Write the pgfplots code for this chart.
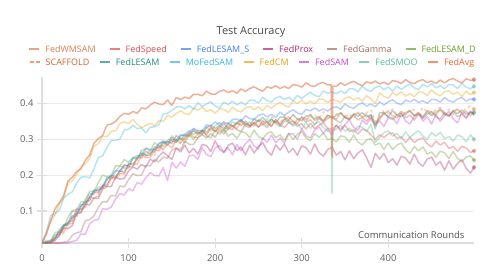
\documentclass[border=0pt]{standalone}
\usepackage{fontspec}
\setmainfont{Open Sans}
\usepackage{pgfplots}
\pgfplotsset{compat=1.18}
\definecolor{cWM}{HTML}{E07D55}
\definecolor{cSPD}{HTML}{E04848}
\definecolor{cLS}{HTML}{3F7BE6}
\definecolor{cPRX}{HTML}{A8286A}
\definecolor{cGAM}{HTML}{A06A58}
\definecolor{cLD}{HTML}{6A9E2C}
\definecolor{cSCF}{HTML}{D0642E}
\definecolor{cSCFl}{HTML}{F0A070}
\definecolor{cLE}{HTML}{1E8C78}
\definecolor{cMO}{HTML}{36B4E0}
\definecolor{cCM}{HTML}{EAA010}
\definecolor{cSAM}{HTML}{C845D0}
\definecolor{cSMO}{HTML}{55B896}
\definecolor{cAVG}{HTML}{E8642E}
\newcommand{\li}[2]{\textcolor{#1!70!white}{\rule[2.6bp]{10bp}{1.6bp}}\hspace{6bp}\textcolor{#1}{#2}}
\newcommand{\lid}[2]{\textcolor{cSCFl}{\rule[2.6bp]{4bp}{1.6bp}\hspace{2bp}\rule[2.6bp]{4bp}{1.6bp}}\hspace{6bp}\textcolor{#1}{#2}}
\begin{document}
\begin{tikzpicture}
\path[use as bounding box] (-42bp,-32bp) rectangle (460bp,243bp);
\begin{axis}[
  scale only axis, width=432bp, height=166bp,
  xmin=0, xmax=499, ymin=0.0106, ymax=0.4743,
  axis x line*=bottom, axis y line*=left,
  axis line style={draw=black!13, line width=1.5bp},
  xtick={0,100,200,300,400}, ytick={0.1,0.2,0.3,0.4},
  ymajorgrids, grid style={draw=black!7, line width=0.8bp},
  tick align=center, major tick length=10bp,
  tick style={draw=black!13, line width=1.2bp},
  /pgf/number format/assume math mode=true,
  ticklabel style={font=\fontsize{9.5}{11}\selectfont, text=black!62},
  yticklabel style={/pgf/number format/fixed, /pgf/number format/precision=1},
  xticklabel style={yshift=-3bp},
  xlabel={Communication Rounds},
  xlabel style={at={(axis description cs:0.986,0.027)}, anchor=base east, font=\fontsize{9.5}{11}\selectfont, text=black!68},
  every axis plot/.append style={line width=1.5bp, line join=round, opacity=0.36},
]
% FedSAM
\addplot[draw=cSAM] coordinates {(0,.010)(5,.010)(10,.010)(15,.011)(20,.010)(25,.010)(30,.011)(35,.015)(40,.018)(45,.036)(50,.035)(55,.064)(60,.074)(65,.076)(70,.106)(75,.105)(80,.111)(85,.134)(90,.148)(95,.145)(100,.162)(105,.156)(110,.180)(115,.175)(120,.193)(125,.207)(130,.199)(135,.198)(140,.221)(145,.185)(150,.236)(155,.220)(160,.237)(165,.225)(170,.254)(175,.256)(180,.244)(185,.276)(190,.258)(195,.252)(200,.276)(205,.283)(210,.265)(215,.277)(220,.257)(225,.286)(230,.268)(235,.288)(240,.300)(245,.282)(250,.273)(255,.304)(260,.292)(265,.312)(270,.291)(275,.304)(280,.289)(285,.316)(290,.315)(295,.300)(300,.330)(305,.310)(310,.304)(315,.326)(320,.335)(325,.317)(330,.330)(335,.312)(340,.340)(345,.323)(350,.342)(355,.354)(360,.334)(365,.325)(370,.354)(375,.342)(380,.361)(385,.339)(390,.352)(395,.336)(400,.362)(405,.360)(410,.344)(415,.372)(420,.351)(425,.343)(430,.364)(435,.371)(440,.351)(445,.363)(450,.343)(455,.369)(460,.350)(465,.367)(470,.378)(475,.357)(480,.346)(485,.375)(490,.361)(495,.379)(499,.366)};
% FedProx
\addplot[draw=cPRX] coordinates {(0,.010)(5,.010)(10,.014)(15,.017)(20,.033)(25,.052)(30,.051)(35,.059)(40,.092)(45,.096)(50,.119)(55,.117)(60,.136)(65,.135)(70,.161)(75,.169)(80,.168)(85,.195)(90,.189)(95,.191)(100,.212)(105,.223)(110,.217)(115,.230)(120,.223)(125,.245)(130,.237)(135,.253)(140,.265)(145,.254)(150,.244)(155,.276)(160,.265)(165,.284)(170,.262)(175,.275)(180,.259)(185,.286)(190,.283)(195,.266)(200,.296)(205,.273)(210,.263)(215,.283)(220,.290)(225,.269)(230,.279)(235,.257)(240,.284)(245,.262)(250,.280)(255,.291)(260,.268)(265,.256)(270,.285)(275,.270)(280,.287)(285,.263)(290,.275)(295,.256)(300,.282)(305,.277)(310,.259)(315,.287)(320,.263)(325,.253)(330,.272)(335,.278)(340,.256)(345,.266)(350,.243)(355,.268)(360,.246)(365,.262)(370,.271)(375,.248)(380,.222)(385,.261)(390,.245)(395,.261)(400,.235)(405,.246)(410,.228)(415,.253)(420,.248)(425,.231)(430,.259)(435,.235)(440,.225)(445,.245)(450,.251)(455,.228)(460,.238)(465,.214)(470,.240)(475,.217)(480,.233)(485,.243)(490,.219)(495,.206)(499,.222)};
% FedGamma
\addplot[draw=cGAM] coordinates {(0,.010)(5,.010)(10,.011)(15,.010)(20,.011)(25,.013)(30,.015)(35,.032)(40,.039)(45,.042)(50,.073)(55,.076)(60,.086)(65,.110)(70,.126)(75,.125)(80,.144)(85,.142)(90,.170)(95,.167)(100,.188)(105,.204)(110,.199)(115,.200)(120,.227)(125,.226)(130,.244)(135,.237)(140,.251)(145,.247)(150,.270)(155,.275)(160,.271)(165,.295)(170,.286)(175,.286)(180,.304)(185,.313)(190,.304)(195,.316)(200,.306)(205,.326)(210,.315)(215,.329)(220,.338)(225,.327)(230,.322)(235,.343)(240,.336)(245,.348)(250,.334)(255,.343)(260,.333)(265,.350)(270,.349)(275,.339)(280,.358)(285,.346)(290,.341)(295,.355)(300,.360)(305,.348)(310,.355)(315,.342)(320,.359)(325,.347)(330,.359)(335,.362)(340,.353)(345,.346)(350,.365)(355,.357)(360,.368)(365,.354)(370,.361)(375,.351)(380,.368)(385,.345)(390,.356)(395,.374)(400,.361)(405,.355)(410,.369)(415,.373)(420,.360)(425,.368)(430,.354)(435,.371)(440,.358)(445,.370)(450,.377)(455,.363)(460,.357)(465,.375)(470,.366)(475,.378)(480,.363)(485,.370)(490,.359)(495,.376)(499,.370)};
% FedLESAM_D
\addplot[draw=cLD] coordinates {(0,.010)(5,.017)(10,.016)(15,.040)(20,.042)(25,.053)(30,.082)(35,.101)(40,.103)(45,.125)(50,.126)(55,.155)(60,.154)(65,.179)(70,.200)(75,.196)(80,.199)(85,.226)(90,.226)(95,.244)(100,.236)(105,.250)(110,.246)(115,.269)(120,.274)(125,.268)(130,.291)(135,.282)(140,.281)(145,.297)(150,.306)(155,.293)(160,.304)(165,.291)(170,.313)(175,.300)(180,.316)(185,.326)(190,.310)(195,.304)(200,.326)(205,.315)(210,.328)(215,.309)(220,.317)(225,.303)(230,.321)(235,.319)(240,.305)(245,.326)(250,.308)(255,.301)(260,.317)(265,.321)(270,.305)(275,.313)(280,.297)(285,.317)(290,.300)(295,.314)(300,.322)(305,.304)(310,.296)(315,.316)(320,.306)(325,.318)(330,.299)(335,.303)(340,.293)(345,.310)(350,.307)(355,.292)(360,.312)(365,.293)(370,.284)(375,.299)(380,.302)(385,.284)(390,.290)(395,.272)(400,.290)(405,.272)(410,.284)(415,.290)(420,.271)(425,.261)(430,.280)(435,.268)(440,.279)(445,.259)(450,.265)(455,.250)(460,.267)(465,.263)(470,.247)(475,.266)(480,.247)(485,.238)(490,.251)(495,.254)(499,.242)};
% FedSpeed
\addplot[draw=cSPD] coordinates {(0,.010)(5,.012)(10,.011)(15,.025)(20,.030)(25,.056)(30,.069)(35,.073)(40,.106)(45,.104)(50,.111)(55,.137)(60,.153)(65,.152)(70,.172)(75,.168)(80,.195)(85,.192)(90,.213)(95,.229)(100,.224)(105,.224)(110,.250)(115,.248)(120,.267)(125,.259)(130,.272)(135,.268)(140,.291)(145,.294)(150,.288)(155,.311)(160,.302)(165,.300)(170,.316)(175,.324)(180,.315)(185,.324)(190,.313)(195,.332)(200,.322)(205,.335)(210,.344)(215,.332)(220,.327)(225,.347)(230,.339)(235,.351)(240,.337)(245,.345)(250,.335)(255,.351)(260,.348)(265,.337)(270,.355)(275,.340)(280,.334)(285,.347)(290,.351)(295,.337)(300,.344)(305,.329)(310,.345)(315,.330)(320,.340)(325,.346)(330,.331)(335,.328)(340,.339)(345,.329)(350,.339)(355,.322)(360,.327)(365,.315)(370,.329)(375,.325)(380,.312)(385,.300)(390,.313)(395,.305)(400,.316)(405,.318)(410,.303)(415,.307)(420,.291)(425,.306)(430,.291)(435,.300)(440,.304)(445,.288)(450,.279)(455,.295)(460,.284)(465,.292)(470,.275)(475,.280)(480,.267)(485,.281)(490,.276)(495,.263)(499,.268)};
% FedSMOO
\addplot[draw=cSMO] coordinates {(0,.010)(5,.012)(10,.019)(15,.022)(20,.049)(25,.061)(30,.064)(35,.099)(40,.099)(45,.105)(50,.132)(55,.149)(60,.146)(65,.167)(70,.165)(75,.194)(80,.189)(85,.210)(90,.226)(95,.220)(100,.220)(105,.248)(110,.245)(115,.265)(120,.255)(125,.270)(130,.264)(135,.289)(140,.292)(145,.285)(150,.310)(155,.300)(160,.298)(165,.316)(170,.324)(175,.313)(180,.324)(185,.312)(190,.335)(195,.323)(200,.338)(205,.348)(210,.334)(215,.328)(220,.350)(225,.341)(230,.355)(235,.339)(240,.349)(245,.337)(250,.354)(255,.351)(260,.339)(265,.358)(270,.343)(275,.335)(280,.349)(285,.353)(290,.337)(295,.344)(300,.329)(305,.347)(310,.331)(315,.342)(320,.349)(325,.333)(330,.323)(334,.325)(335,.149)(336,.327)(340,.328)(345,.340)(350,.323)(355,.331)(360,.319)(365,.337)(370,.334)(375,.322)(380,.342)(385,.292)(390,.305)(395,.319)(400,.324)(405,.309)(410,.317)(415,.302)(420,.321)(425,.305)(430,.317)(435,.324)(440,.309)(445,.300)(450,.319)(455,.309)(460,.320)(465,.302)(470,.308)(475,.295)(480,.312)(485,.308)(490,.294)(495,.313)(499,.300)};
% FedLESAM
\addplot[draw=cLE] coordinates {(0,.010)(5,.012)(10,.014)(15,.033)(20,.036)(25,.060)(30,.061)(35,.082)(40,.087)(45,.114)(50,.126)(55,.129)(60,.158)(65,.157)(70,.164)(75,.186)(80,.199)(85,.196)(90,.212)(95,.208)(100,.233)(105,.229)(110,.247)(115,.261)(120,.256)(125,.256)(130,.279)(135,.277)(140,.293)(145,.285)(150,.296)(155,.291)(160,.310)(165,.313)(170,.308)(175,.328)(180,.319)(185,.317)(190,.333)(195,.339)(200,.330)(205,.339)(210,.328)(215,.346)(220,.336)(225,.347)(230,.355)(235,.344)(240,.340)(245,.357)(250,.350)(255,.361)(260,.349)(265,.356)(270,.347)(275,.362)(280,.362)(285,.353)(290,.369)(295,.357)(300,.352)(305,.365)(310,.368)(315,.357)(320,.364)(325,.352)(330,.368)(335,.360)(340,.367)(345,.374)(350,.361)(355,.356)(360,.372)(365,.365)(370,.375)(375,.363)(380,.369)(385,.330)(390,.374)(395,.374)(400,.364)(405,.380)(410,.368)(415,.363)(420,.375)(425,.379)(430,.367)(435,.374)(440,.361)(445,.378)(450,.366)(455,.376)(460,.382)(465,.370)(470,.364)(475,.380)(480,.372)(485,.382)(490,.370)(495,.376)(499,.375)};
% FedAvg
\addplot[draw=cAVG] coordinates {(0,.010)(5,.010)(10,.011)(15,.026)(20,.040)(25,.042)(30,.064)(35,.065)(40,.097)(45,.097)(50,.121)(55,.139)(60,.136)(65,.142)(70,.172)(75,.173)(80,.194)(85,.189)(90,.205)(95,.203)(100,.228)(105,.234)(110,.230)(115,.256)(120,.249)(125,.250)(130,.269)(135,.280)(140,.273)(145,.285)(150,.276)(155,.298)(160,.290)(165,.305)(170,.317)(175,.307)(180,.304)(185,.325)(190,.320)(195,.334)(200,.322)(205,.331)(210,.322)(215,.339)(220,.339)(225,.330)(230,.350)(235,.337)(240,.333)(245,.347)(250,.353)(255,.341)(260,.349)(265,.336)(270,.355)(275,.343)(280,.355)(285,.363)(290,.350)(295,.344)(300,.363)(305,.355)(310,.367)(315,.353)(320,.361)(325,.351)(330,.367)(335,.364)(340,.356)(345,.374)(350,.361)(355,.355)(360,.369)(365,.374)(370,.361)(375,.369)(380,.356)(385,.342)(390,.361)(395,.372)(400,.380)(405,.366)(410,.360)(415,.378)(420,.370)(425,.381)(430,.366)(435,.374)(440,.363)(445,.380)(450,.378)(455,.367)(460,.386)(465,.372)(470,.367)(475,.380)(480,.384)(485,.372)(490,.379)(495,.366)(499,.378)};
% SCAFFOLD
\addplot[draw=cSCFl, dashed, opacity=0.5] coordinates {(0,.010)(5,.011)(10,.016)(15,.017)(20,.035)(25,.037)(30,.063)(35,.085)(40,.086)(45,.093)(50,.125)(55,.128)(60,.151)(65,.149)(70,.169)(75,.168)(80,.194)(85,.202)(90,.201)(95,.228)(100,.222)(105,.224)(110,.244)(115,.256)(120,.250)(125,.263)(130,.256)(135,.279)(140,.272)(145,.288)(150,.300)(155,.291)(160,.289)(165,.312)(170,.307)(175,.323)(180,.312)(185,.323)(190,.315)(195,.335)(200,.336)(205,.327)(210,.347)(215,.335)(220,.331)(225,.346)(230,.352)(235,.341)(240,.350)(245,.337)(250,.356)(255,.344)(260,.356)(265,.364)(270,.352)(275,.346)(280,.365)(285,.357)(290,.369)(295,.355)(300,.362)(305,.352)(310,.369)(315,.368)(320,.358)(325,.377)(330,.363)(335,.358)(340,.371)(345,.376)(350,.364)(355,.371)(360,.358)(365,.376)(370,.363)(375,.375)(380,.382)(385,.350)(390,.363)(395,.381)(400,.373)(405,.385)(410,.370)(415,.378)(420,.367)(425,.384)(430,.382)(435,.372)(440,.390)(445,.377)(450,.371)(455,.384)(460,.389)(465,.376)(470,.384)(475,.370)(480,.387)(485,.375)(490,.386)(495,.394)(499,.384)};
% FedLESAM_S
\addplot[draw=cLS] coordinates {(0,.010)(5,.015)(10,.013)(15,.022)(20,.043)(25,.061)(30,.066)(35,.086)(40,.092)(45,.117)(50,.119)(55,.140)(60,.157)(65,.160)(70,.167)(75,.192)(80,.197)(85,.213)(90,.211)(95,.226)(100,.228)(105,.247)(110,.255)(115,.255)(120,.276)(125,.272)(130,.273)(135,.288)(140,.296)(145,.291)(150,.301)(155,.297)(160,.314)(165,.309)(170,.321)(175,.331)(180,.325)(185,.324)(190,.341)(195,.338)(200,.349)(205,.341)(210,.349)(215,.343)(220,.356)(225,.357)(230,.351)(235,.366)(240,.358)(245,.356)(250,.367)(255,.371)(260,.363)(265,.370)(270,.362)(275,.376)(280,.367)(285,.376)(290,.383)(295,.374)(300,.370)(305,.384)(310,.380)(315,.388)(320,.379)(325,.385)(330,.379)(335,.388)(340,.391)(345,.384)(350,.399)(355,.390)(360,.387)(365,.397)(370,.402)(375,.393)(380,.399)(385,.391)(390,.405)(395,.396)(400,.405)(405,.411)(410,.401)(415,.397)(420,.410)(425,.405)(430,.412)(435,.403)(440,.408)(445,.401)(450,.412)(455,.411)(460,.404)(465,.417)(470,.408)(475,.404)(480,.413)(485,.417)(490,.407)(495,.413)(499,.412)};
% FedCM
\addplot[draw=cCM] coordinates {(0,.010)(5,.038)(10,.071)(15,.088)(20,.120)(25,.135)(30,.179)(35,.184)(40,.202)(45,.223)(50,.232)(55,.246)(60,.281)(65,.288)(70,.309)(75,.307)(80,.323)(85,.324)(90,.345)(95,.349)(100,.344)(105,.356)(110,.342)(115,.333)(120,.339)(125,.345)(130,.338)(135,.353)(140,.350)(145,.368)(150,.362)(155,.372)(160,.380)(165,.372)(170,.369)(175,.387)(180,.382)(185,.390)(190,.378)(195,.383)(200,.373)(205,.386)(210,.384)(215,.375)(220,.390)(225,.380)(230,.377)(235,.388)(240,.392)(245,.383)(250,.391)(255,.380)(260,.395)(265,.387)(270,.397)(275,.404)(280,.395)(285,.390)(290,.407)(295,.400)(300,.410)(305,.399)(310,.407)(315,.399)(320,.413)(325,.412)(330,.403)(335,.412)(340,.408)(345,.404)(350,.415)(355,.419)(360,.410)(365,.417)(370,.407)(375,.422)(380,.413)(385,.400)(390,.430)(395,.420)(400,.415)(405,.431)(410,.423)(415,.433)(420,.421)(425,.428)(430,.419)(435,.433)(440,.431)(445,.423)(450,.438)(455,.427)(460,.422)(465,.433)(470,.436)(475,.426)(480,.432)(485,.420)(490,.435)(495,.425)(499,.431)};
% MoFedSAM
\addplot[draw=cMO] coordinates {(0,.010)(5,.042)(10,.087)(15,.093)(20,.102)(25,.137)(30,.146)(35,.153)(40,.178)(45,.194)(50,.196)(55,.192)(60,.218)(65,.249)(70,.254)(75,.277)(80,.298)(85,.297)(90,.301)(95,.326)(100,.328)(105,.340)(110,.330)(115,.332)(120,.318)(125,.334)(130,.335)(135,.341)(140,.371)(145,.373)(150,.381)(155,.390)(160,.392)(165,.385)(170,.394)(175,.385)(180,.402)(185,.392)(190,.399)(195,.405)(200,.393)(205,.388)(210,.404)(215,.397)(220,.407)(225,.396)(230,.404)(235,.396)(240,.410)(245,.409)(250,.402)(255,.418)(260,.408)(265,.404)(270,.416)(275,.420)(280,.411)(285,.418)(290,.408)(295,.423)(300,.414)(305,.424)(310,.432)(315,.423)(320,.419)(325,.435)(330,.429)(335,.432)(340,.428)(345,.435)(350,.428)(355,.442)(360,.441)(365,.433)(370,.449)(375,.438)(380,.434)(385,.445)(390,.449)(395,.439)(400,.446)(405,.435)(410,.449)(415,.440)(420,.448)(425,.455)(430,.444)(435,.439)(440,.454)(445,.447)(450,.456)(455,.444)(460,.450)(465,.441)(470,.454)(475,.452)(480,.442)(485,.457)(490,.446)(495,.441)(499,.448)};
% FedWMSAM
\addplot[draw=cWM, opacity=0.6] coordinates {(0,.010)(5,.035)(10,.072)(15,.106)(20,.123)(25,.143)(30,.184)(35,.194)(40,.210)(45,.218)(50,.241)(55,.256)(60,.289)(65,.302)(70,.311)(75,.340)(80,.343)(85,.350)(90,.364)(95,.373)(100,.370)(105,.378)(110,.373)(115,.388)(120,.385)(125,.396)(130,.404)(135,.399)(140,.397)(145,.410)(150,.395)(155,.417)(160,.411)(165,.418)(170,.414)(175,.426)(180,.426)(185,.422)(190,.435)(195,.427)(200,.426)(205,.434)(210,.438)(215,.431)(220,.436)(225,.429)(230,.441)(235,.434)(240,.442)(245,.447)(250,.440)(255,.435)(260,.447)(265,.443)(270,.450)(275,.442)(280,.448)(285,.442)(290,.453)(295,.451)(300,.446)(305,.458)(310,.450)(315,.448)(320,.456)(325,.459)(330,.452)(334,.453)(335,.250)(336,.449)(340,.448)(345,.458)(350,.451)(355,.458)(360,.462)(365,.455)(370,.450)(375,.461)(380,.457)(385,.463)(390,.455)(395,.460)(400,.453)(405,.464)(410,.462)(415,.456)(420,.467)(425,.459)(430,.456)(435,.463)(440,.467)(445,.459)(450,.463)(455,.456)(460,.466)(465,.458)(470,.466)(475,.470)(480,.463)(485,.458)(490,.469)(495,.465)(499,.467)};
% end dots
\addplot[only marks, mark=*, mark size=1.7bp, color=cWM, opacity=0.6] coordinates {(499,.467)};
\addplot[only marks, mark=*, mark size=1.7bp, color=cMO] coordinates {(499,.448)};
\addplot[only marks, mark=*, mark size=1.7bp, color=cCM] coordinates {(499,.431)};
\addplot[only marks, mark=*, mark size=1.7bp, color=cLS] coordinates {(499,.412)};
\addplot[only marks, mark=*, mark size=1.7bp, color=cSCFl, opacity=0.5] coordinates {(499,.384)};
\addplot[only marks, mark=*, mark size=1.7bp, color=cLE] coordinates {(499,.375)};
\addplot[only marks, mark=*, mark size=1.7bp, color=cSMO] coordinates {(499,.300)};
\addplot[only marks, mark=*, mark size=1.7bp, color=cSPD] coordinates {(499,.268)};
\addplot[only marks, mark=*, mark size=1.7bp, color=cLD] coordinates {(499,.242)};
\addplot[only marks, mark=*, mark size=1.7bp, color=cPRX] coordinates {(499,.222)};
\end{axis}
\node[anchor=base, font=\fontsize{11}{12}\selectfont, text=black!72] at (209bp,208bp) {Test Accuracy};
\node[anchor=base, font=\fontsize{9}{11}\selectfont, inner sep=0pt] at (210.5bp,190.5bp) {\li{cWM}{FedWMSAM}\hspace{14bp}\li{cSPD}{FedSpeed}\hspace{14bp}\li{cLS}{FedLESAM\_S}\hspace{14bp}\li{cPRX}{FedProx}\hspace{14bp}\li{cGAM}{FedGamma}\hspace{14bp}\li{cLD}{FedLESAM\_D}};
\node[anchor=base, font=\fontsize{9}{11}\selectfont, inner sep=0pt] at (210bp,177.5bp) {\lid{cSCF}{SCAFFOLD}\hspace{10.5bp}\li{cLE}{FedLESAM}\hspace{10.5bp}\li{cMO}{MoFedSAM}\hspace{10.5bp}\li{cCM}{FedCM}\hspace{10.5bp}\li{cSAM}{FedSAM}\hspace{10.5bp}\li{cSMO}{FedSMOO}\hspace{10.5bp}\li{cAVG}{FedAvg}};
\end{tikzpicture}
\end{document}
